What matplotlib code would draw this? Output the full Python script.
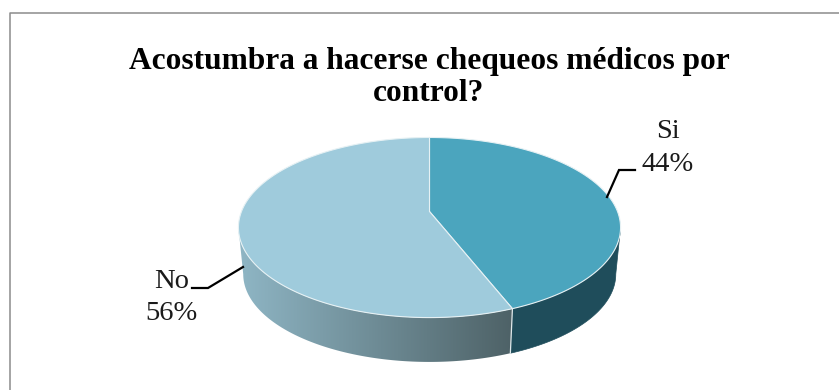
import matplotlib.pyplot as plt
from matplotlib.colors import LinearSegmentedColormap
from matplotlib.patches import Polygon
import numpy as np

labels = ['Si', 'No']
shares = [44, 56]
title = 'Acostumbra a hacerse chequeos médicos por\ncontrol?'

top_colors = ['#4ba5be', '#9fcbdc']
si_side = '#1f4d5b'
no_side_left = '#8fb6c5'
no_side_right = '#4e6267'

# pie geometry in pixels, k is the perspective strength
cx, cy = 429.5, 211.5
radius, height, k = 188.0, 87.2, -0.178
depth, lower_scale = 47.0, 0.975


def rim(theta, scale=1.0, drop=0.0):
    # theta runs clockwise from 12 o'clock
    u, v = np.sin(theta), np.cos(theta)
    w = 1 - k * v
    return np.column_stack((cx + scale * radius * u / w, cy + drop - scale * height * v / w))


def side(start, end):
    t = np.linspace(start, end, 120)
    return np.vstack((rim(t), rim(t[::-1], lower_scale, depth)))


fig = plt.figure(figsize=(8.39, 3.9), dpi=100)
ax = fig.add_axes([0, 0, 1, 1])

# chart frame, only top and left are in view
ax.plot([9.5, 9.5, 839], [390, 12.5, 12.5], color='#8c8c8c', lw=1.1)

boundary = 2 * np.pi * shares[0] / sum(shares)
side_start = np.arccos(k)
side_end = 2 * np.pi - side_start

# front wall
ax.add_patch(Polygon(side(side_start, boundary), fc=si_side, ec=si_side, lw=0.5, zorder=2))
no_wall = Polygon(side(boundary, side_end), fc='none', ec='none', zorder=3)
ax.add_patch(no_wall)
no_cmap = LinearSegmentedColormap.from_list('wall', [no_side_left, no_side_right])
pts = no_wall.get_xy()
grad = ax.imshow(np.linspace(0, 1, 256).reshape(1, -1), cmap=no_cmap, aspect='auto', zorder=3,
                 extent=(pts[:, 0].min(), pts[:, 0].max(), pts[:, 1].max(), pts[:, 1].min()))
grad.set_clip_path(no_wall)
ax.set_xlim(0, 839)
ax.set_ylim(390, 0)
ax.axis('off')

# seam between the two walls
seam_top = rim(np.array([boundary]))[0]
seam_low = rim(np.array([boundary]), lower_scale, depth)[0]
ax.plot([seam_top[0], seam_low[0]], [seam_top[1], seam_low[1]], color='#dfe8ea', lw=0.9, zorder=4)

# top faces
angle = 0.0
for share, color in zip(shares, top_colors):
    span = 2 * np.pi * share / sum(shares)
    t = np.linspace(angle, angle + span, 200)
    ax.add_patch(Polygon(np.vstack(([[cx, cy]], rim(t))), closed=True, fc=color,
                         ec='#e6f1f4', lw=0.8, zorder=5))
    angle += span

for line, base in zip(title.split('\n'), [69, 101]):
    ax.text(429, base, line, ha='center', va='baseline', family='Liberation Serif',
            fontsize=22.6, fontweight='bold', color='black')

# data labels with leader lines
label_pos = [(667.5, 138, 171), (171.5, 288, 320)]
leaders = [([607, 619, 635], [197, 170, 170]), ([243, 208, 192], [267, 288, 288])]
for name, share, (x, y1, y2), (lx, ly) in zip(labels, shares, label_pos, leaders):
    ax.text(x, y1, name, ha='center', va='baseline', family='Liberation Serif', fontsize=20.5, color='#1a1a1a')
    ax.text(x, y2, '{}%'.format(share), ha='center', va='baseline', family='Liberation Serif',
            fontsize=20.5, color='#1a1a1a')
    ax.plot(lx, ly, color='black', lw=1.6, solid_joinstyle='miter', zorder=6)

plt.savefig('out.png', dpi=100)
